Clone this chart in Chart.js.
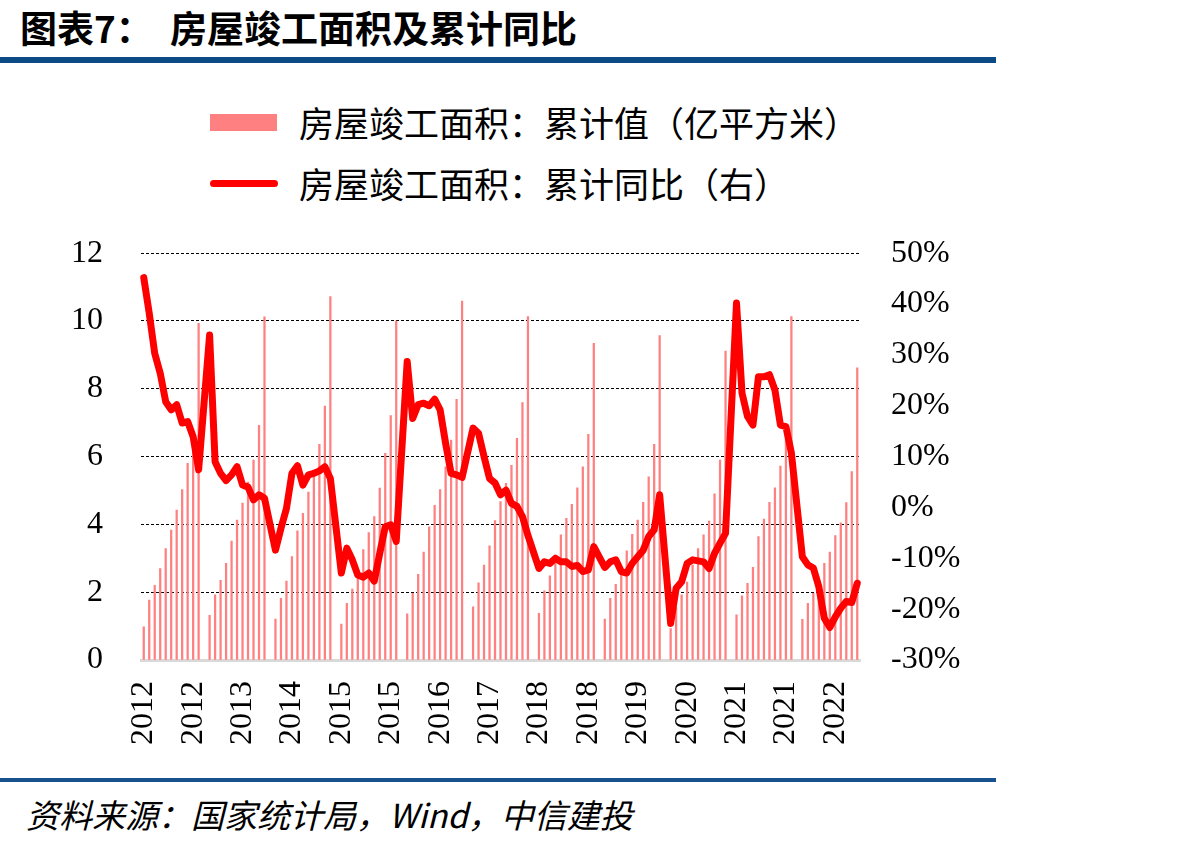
<!DOCTYPE html>
<html>
<head>
<meta charset="utf-8">
<script src="https://cdn.jsdelivr.net/npm/chart.js@4"></script>
<style>
  body { margin: 0; background: #fff; width: 1189px; height: 847px; position: relative; overflow: hidden; }
  .title { position: absolute; top: 0px; font-family: "Noto Sans CJK SC", sans-serif; font-weight: bold; font-size: 37px; color: #000; white-space: nowrap; }
  .bar-top { position: absolute; left: 0; top: 57px; width: 996px; height: 6px; background: #0b4a85; }
  .bar-bottom { position: absolute; left: 0; top: 778px; width: 996px; height: 4px; background: #17528e; }
  .source { position: absolute; left: 26px; top: 790px; font-family: "Noto Sans CJK SC", sans-serif; font-style: italic; font-size: 33px; color: #000; white-space: nowrap; }
  .legend { position: absolute; left: 0; font-family: "Noto Sans CJK SC", sans-serif; font-size: 35px; color: #000; white-space: nowrap; }
  .legend span { position: absolute; left: 299px; top: -26px; }
  .swatch-bar { position: absolute; left: 210px; width: 67px; height: 17px; background: #ff8080; }
  .swatch-line { position: absolute; left: 210px; width: 68px; height: 7px; border-radius: 4px; background: #ff0000; }
  #wrap { position: absolute; left: 0; top: 196px; width: 1000px; height: 574px; }
</style>
</head>
<body>
<div class="title" style="left:20px">图表7：</div>
<div class="title" style="left:170px">房屋竣工面积及累计同比</div>
<div class="bar-top"></div>

<div class="swatch-bar" style="top:114px"></div>
<div class="legend" style="top:122px"><span>房屋竣工面积：累计值（亿平方米）</span></div>
<div class="swatch-line" style="top:180px"></div>
<div class="legend" style="top:183px"><span>房屋竣工面积：累计同比（右）</span></div>

<div id="wrap"><canvas id="chart"></canvas></div>

<div class="bar-bottom"></div>
<div class="source">资料来源：国家统计局，Wind，中信建投</div>

<script>
// cumulative completed floor area (亿平方米), Jan has no release (null)
const area2012 = [0.98, 1.77, 2.20, 2.70, 3.29, 3.83, 4.42, 5.03, 5.80, 6.70, 9.93]; // Feb-Dec
const area2013 = [null, 1.32, 1.92, 2.35, 2.85, 3.51, 4.13, 4.63, 5.25, 5.90, 6.92, 10.12];
const area2014 = [null, 1.21, 1.82, 2.33, 3.05, 3.81, 4.33, 4.95, 5.60, 6.36, 7.49, 10.72];
const area2015 = [null, 1.06, 1.67, 2.09, 2.56, 3.26, 3.76, 4.23, 5.07, 6.10, 7.21, 10.00];
const area2016 = [null, 1.36, 1.97, 2.53, 3.18, 3.93, 4.56, 5.03, 5.70, 6.49, 7.69, 10.59];
const area2017 = [null, 1.57, 2.28, 2.80, 3.37, 4.11, 4.67, 5.21, 5.74, 6.54, 7.59, 10.13];
const area2018 = [null, 1.38, 2.04, 2.48, 3.10, 3.69, 4.18, 4.59, 5.08, 5.70, 6.66, 9.34];
const area2019 = [null, 1.21, 1.82, 2.23, 2.60, 3.22, 3.71, 4.13, 4.65, 5.40, 6.36, 9.57];
const area2020 = [null, 0.93, 1.55, 1.92, 2.30, 2.80, 3.29, 3.69, 4.10, 4.90, 5.90, 9.11];
const area2021 = [null, 1.33, 1.89, 2.26, 2.73, 3.64, 4.16, 4.65, 5.08, 5.72, 6.65, 10.13];
const area2022 = [null, 1.20, 1.67, 1.97, 2.40, 2.85, 3.18, 3.67, 4.05, 4.64, 5.56, 8.62];

// cumulative YoY (%)
const yoy2012 = [45.2, 38.2, 30.3, 26.4, 20.8, 19.2, 20.2, 16.6, 16.9, 13.9, 7.4]; // Feb-Dec
const yoy2013 = [null, 33.9, 9.0, 6.7, 5.3, 6.4, 8.0, 4.4, 4.0, 1.5, 2.5, 1.8];
const yoy2014 = [null, -8.4, -4.1, -0.2, 6.7, 8.2, 4.4, 6.4, 6.7, 7.2, 8.0, 5.7];
const yoy2015 = [null, -12.9, -8.0, -10.3, -13.3, -13.7, -12.9, -14.5, -9.0, -3.8, -3.4, -6.7];
const yoy2016 = [null, 28.7, 17.5, 20.2, 20.5, 20.0, 21.3, 19.2, 12.6, 6.7, 6.4, 5.9];
const yoy2017 = [null, 15.6, 14.6, 10.0, 5.7, 4.8, 2.5, 3.4, 0.8, 0.2, -1.8, -5.5];
const yoy2018 = [null, -12.0, -10.7, -11.0, -10.0, -10.7, -10.7, -11.6, -11.4, -12.6, -12.3, -7.7];
const yoy2019 = [null, -11.8, -10.7, -10.3, -12.6, -12.9, -11.0, -9.7, -8.4, -5.7, -4.4, 2.5];
const yoy2020 = [null, -22.8, -15.9, -14.6, -11.0, -10.3, -10.5, -10.7, -12.0, -9.0, -7.0, -5.1];
const yoy2021 = [null, 40.2, 22.5, 17.9, 16.2, 25.7, 25.7, 26.1, 23.1, 16.2, 15.9, 10.7];
const yoy2022 = [null, -9.7, -11.3, -11.9, -15.6, -21.8, -23.6, -21.5, -19.8, -18.5, -18.7, -14.9];

const years = [2012, 2013, 2014, 2015, 2016, 2017, 2018, 2019, 2020, 2021, 2022];
const leftTicks = [0, 2, 4, 6, 8, 10, 12];
const rightTicks = [-30, -20, -10, 0, 10, 20, 30, 40, 50];
const labelEvery = 9;

// month categories 2012-02 .. 2022-12
const categories = [];
years.forEach(y => {
  for (let m = (y === 2012 ? 2 : 1); m <= 12; m++) {
    categories.push(y + '-' + String(m).padStart(2, '0'));
  }
});

const areaValues = [].concat(area2012, area2013, area2014, area2015, area2016, area2017,
  area2018, area2019, area2020, area2021, area2022);
const yoyValues = [].concat(yoy2012, yoy2013, yoy2014, yoy2015, yoy2016, yoy2017,
  yoy2018, yoy2019, yoy2020, yoy2021, yoy2022);

const serif = 'Liberation Serif';

new Chart(document.getElementById('chart'), {
  type: 'bar',
  data: {
    labels: categories,
    datasets: [{
      type: 'line',
      label: '房屋竣工面积：累计同比（右）',
      data: yoyValues,
      yAxisID: 'y1',
      borderColor: '#ff0000',
      borderWidth: 7,
      pointRadius: 0,
      tension: 0,
      spanGaps: true,
      borderJoinStyle: 'round',
      borderCapStyle: 'round',
      order: 0
    }, {
      label: '房屋竣工面积：累计值（亿平方米）',
      data: areaValues,
      yAxisID: 'y',
      backgroundColor: '#ff8080',
      barThickness: 1.6,
      order: 1
    }]
  },
  options: {
    responsive: true,
    maintainAspectRatio: false,
    animation: false,
    layout: { padding: 0 },
    plugins: {
      legend: { display: false },
      tooltip: { enabled: false }
    },
    scales: {
      x: {
        grid: { display: false, drawTicks: false },
        border: { display: true, color: '#d9d9d9', width: 3 },
        ticks: {
          autoSkip: false,
          minRotation: 90,
          maxRotation: 90,
          padding: 21,
          color: '#000',
          font: { family: serif, size: 32 },
          callback: (v, i) => i % labelEvery === 0 ? categories[i].slice(0, 4) : ''
        },
        afterFit: axis => { axis.height = 110; }
      },
      y: {
        position: 'left',
        min: 0,
        max: 12,
        afterBuildTicks: axis => { axis.ticks = leftTicks.map(v => ({ value: v })); },
        grid: {
          drawTicks: false,
          color: ctx => ctx.tick && ctx.tick.value === 0 ? 'rgba(0,0,0,0)' : '#000',
          lineWidth: 1
        },
        border: { display: false, dash: [3, 2] },
        ticks: {
          padding: 38,
          color: '#000',
          font: { family: serif, size: 32 }
        },
        afterFit: axis => { axis.width = 141; }
      },
      y1: {
        position: 'right',
        min: -30,
        max: 50,
        afterBuildTicks: axis => { axis.ticks = rightTicks.map(v => ({ value: v })); },
        grid: { display: false, drawTicks: false },
        border: { display: false },
        ticks: {
          padding: 31,
          color: '#000',
          font: { family: serif, size: 32 },
          callback: v => v + '%'
        },
        afterFit: axis => { axis.width = 140; }
      }
    }
  }
});
</script>
</body>
</html>
